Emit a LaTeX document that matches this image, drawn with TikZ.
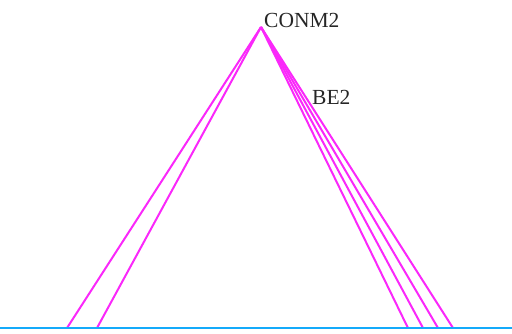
\documentclass[tikz,border=0pt]{standalone}
\usepackage{fontspec}
\setmainfont{Liberation Serif}
\usepackage{xcolor}
\usetikzlibrary{positioning}
\definecolor{cablepink}{RGB}{250,40,250}
\definecolor{deckblue}{RGB}{20,170,250}

\begin{document}
\begin{tikzpicture}[
    x=1pt, y=-1pt,
    every node/.style={font=\fontsize{21.5}{24}\selectfont},
    cable/.style={draw=cablepink, line width=2pt},
    deck/.style={draw=deckblue, line width=2.6pt},
    tag/.style={inner sep=0pt, anchor=base west, text=black!85},
]
\useasboundingbox (0,0) rectangle (512,333);

% Top of the mast and the deck anchors
\coordinate (top) at (261,27);
\coordinate (deckL) at (0,328);
\coordinate (deckR) at (512,328);
\coordinate (aL1) at (67,328);
\coordinate (aL2) at (97,328);
\coordinate (aR1) at (408,328);
\coordinate (aR2) at (423,328);
\coordinate (aR3) at (438,328);
\coordinate (aR4) at (453,328);

% Labels
\node[tag] (conm) at (264,27) {CONM2};
\node[tag] (be)   at (312,104) {BE2};

% Cables
\foreach \a in {aL1,aL2,aR1,aR2,aR3,aR4}
  \draw[cable] (top) -- (\a);

% Deck
\draw[deck] (deckL) -- (deckR);
\end{tikzpicture}
\end{document}
